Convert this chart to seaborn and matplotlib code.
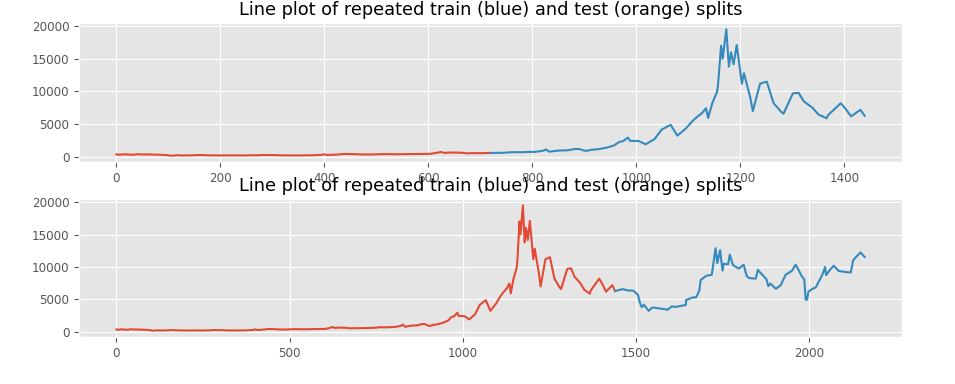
import matplotlib
matplotlib.use('Agg')
import matplotlib.pyplot as plt
import seaborn as sns
import numpy as np
import pandas as pd

plt.style.use('ggplot')

# day index (days from start of series) and close price
day = [0, 4, 14, 20, 31, 42, 50, 61, 75, 91, 97, 105, 111, 117, 123, 137, 151,
       162, 172, 182, 196, 212, 226, 243, 258, 273, 284, 292, 304, 322, 335,
       350, 365, 380, 396, 399, 406, 416, 426, 440, 456, 471, 488, 502, 517,
       535, 548, 565, 578, 603, 610, 625, 631, 639, 653, 670, 671, 684, 701,
       719, 720, 731, 745, 762, 776, 792, 806, 822, 826, 833, 842, 854, 868,
       882, 891, 899, 905, 913, 927, 943, 957, 967, 974, 984, 988, 1004, 1018,
       1035, 1049, 1066, 1079, 1096, 1107, 1115, 1127, 1134, 1138, 1146, 1155,
       1157, 1163, 1166, 1173, 1178, 1182, 1187, 1193, 1203, 1207, 1219, 1224,
       1238, 1251, 1264, 1278, 1283, 1301, 1312, 1322, 1339, 1350, 1366, 1369,
       1393, 1400, 1413, 1431, 1439, 1440, 1461, 1475, 1492, 1505, 1511, 1516,
       1522, 1536, 1546, 1552, 1562, 1584, 1590, 1603, 1612, 1643, 1644, 1662,
       1673, 1682, 1686, 1702, 1718, 1729, 1734, 1742, 1749, 1753, 1765, 1770,
       1779, 1796, 1810, 1819, 1826, 1845, 1851, 1857, 1876, 1881, 1887, 1903,
       1917, 1931, 1949, 1960, 1968, 1978, 1985, 1989, 1993, 1997, 2009, 2018,
       2037, 2045, 2048, 2058, 2070, 2084, 2100, 2119, 2126, 2131, 2147, 2159]

price = [400, 330, 395, 385, 335, 420, 375, 380, 350, 315, 275, 190, 215, 265,
         225, 235, 255, 295, 260, 245, 225, 235, 237, 225, 245, 258, 300, 278,
         280, 230, 228, 230, 237, 262, 320, 400, 310, 325, 375, 455, 430, 385,
         375, 405, 435, 415, 418, 440, 450, 470, 545, 760, 590, 675, 665, 610,
         545, 575, 573, 605, 606, 615, 640, 730, 710, 755, 780, 965, 1150, 790,
         900, 985, 1010, 1220, 1200, 970, 935, 1080, 1180, 1420, 1750, 2300,
         2400, 2950, 2450, 2440, 1930, 2730, 4200, 4900, 3250, 4400, 5400, 6000,
         6750, 7450, 5950, 8200, 9900, 10900, 17000, 15000, 19500, 13800, 16000,
         14150, 17100, 11200, 12800, 9100, 7000, 11200, 11500, 8200, 6950, 6600,
         9700, 9800, 8500, 7500, 6500, 5900, 6400, 8200, 7600, 6200, 7200, 6300,
         6300, 6600, 6400, 6350, 5700, 4450, 3800, 4200, 3250, 3750, 3750, 3650,
         3500, 3400, 3950, 3850, 4150, 4900, 5300, 5350, 6350, 8000, 8650, 8800,
         12900, 10600, 12600, 9450, 10500, 10400, 11900, 10300, 9750, 10350,
         8600, 8300, 8200, 9550, 9200, 8100, 7050, 7450, 6650, 7200, 8800, 9400,
         10350, 9600, 8550, 8100, 4950, 5000, 6200, 6650, 6850, 8800, 10000,
         8750, 9500, 10200, 9400, 9250, 9150, 11000, 11350, 12250, 11550]

df = pd.DataFrame({'day': day, 'price': price})

# (train end, test end) for each of the two repeated splits
splits = [(719, 1439), (1439, 2159)]
title = 'Line plot of repeated train (blue) and test (orange) splits'

fig = plt.figure(figsize=(9.55, 3.84), dpi=100)
boxes = [[79 / 955, 1 - 162 / 384, 823 / 955, 139 / 384],
         [79 / 955, 1 - 337 / 384, 823 / 955, 138 / 384]]

for box, (tr_end, te_end) in zip(boxes, splits):
    ax = fig.add_axes(box)
    train = df[df['day'] <= tr_end]
    test = df[(df['day'] > tr_end) & (df['day'] <= te_end)]
    sns.lineplot(x='day', y='price', data=train, ax=ax, color='#E24A33',
                 linewidth=1.5)
    sns.lineplot(x='day', y='price', data=test, ax=ax, color='#348ABD',
                 linewidth=1.5)
    ax.set_xlabel('')
    ax.set_ylabel('')
    ax.set_yticks([0, 5000, 10000, 15000, 20000])
    ax.tick_params(labelsize=8.6, colors='#555555')
    ax.set_title(title, fontsize=12.8, color='black')

fig.savefig('out.png', dpi=100)
